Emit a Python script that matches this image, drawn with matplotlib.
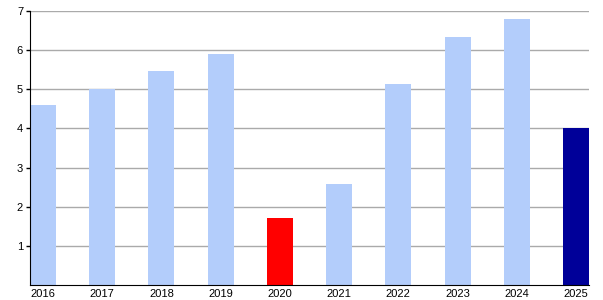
import matplotlib
matplotlib.use('Agg')
import matplotlib.pyplot as plt

years = ['2016', '2017', '2018', '2019', '2020', '2021', '2022', '2023', '2024', '2025']
values = [4.6, 5.0, 5.47, 5.9, 1.7, 2.58, 5.13, 6.33, 6.8, 4.0]
colors = ['#b3cdfb'] * 4 + ['#ff0000'] + ['#b3cdfb'] * 4 + ['#000099']

plt.rcParams['font.family'] = ['Liberation Sans', 'DejaVu Sans']

fig = plt.figure(figsize=(6.03, 3.0), dpi=100)
ax = fig.add_axes([30 / 603, 15 / 300, 559 / 603, 274 / 300])

w = 0.44
x = range(len(years))
ax.bar(x, values, width=w, color=colors, zorder=2)

ax.set_xlim(-w / 2, len(years) - 1 + w / 2)
ax.set_ylim(0, 7)
ax.set_yticks(range(1, 8))
ax.set_xticks(list(x))
ax.set_xticklabels(years)
ax.yaxis.grid(True, color='#aaaaaa', linewidth=1, zorder=0)
ax.set_axisbelow(True)

for s in ['top', 'right']:
    ax.spines[s].set_visible(False)
ax.spines['left'].set_color('black')
ax.spines['bottom'].set_color('black')
ax.tick_params(axis='x', length=0, pad=3, labelsize=8)
ax.tick_params(axis='y', length=3, width=1, pad=2, labelsize=8)

fig.savefig('out.png', dpi=100)
